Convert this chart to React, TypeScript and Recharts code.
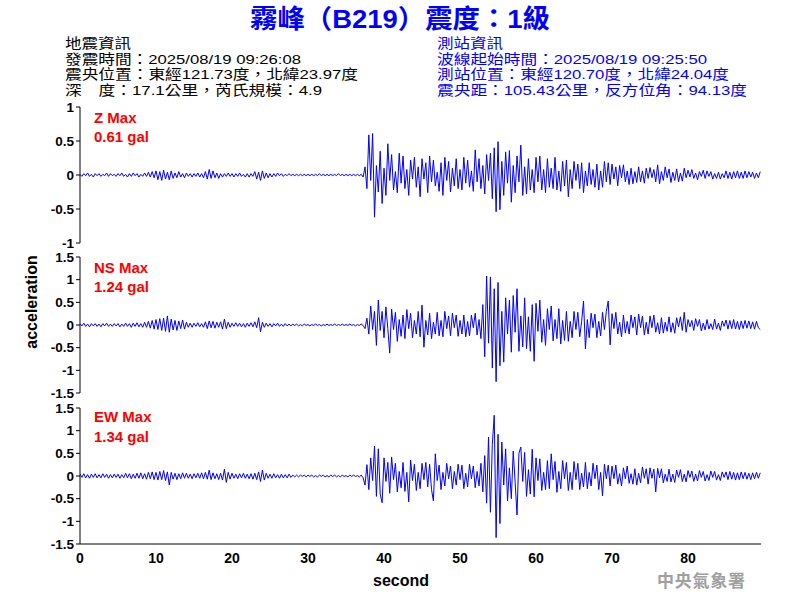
import React from 'react';
import { LineChart, Line, XAxis, YAxis } from 'recharts';

// 取樣間隔 (秒)，數值單位 0.01 gal
const SAMPLE_INTERVAL = 0.25;

const Z_CGAL = [
  1, -2, 2, -1, 3, -2, 1, -3, 2, -1, 2, -2, 1, -1, 3, -2, 2, -1, 1, -2,
  2, -1, 3, -2, 1, -3, 2, -2, 3, -1, 2, -3, 1, -2, 3, -2, 4, -3, 5, -4,
  6, -7, 5, -8, 7, -6, 4, -7, 6, -5, 3, -4, 5, -3, 2, -4, 3, -2, 2, -3,
  2, -2, 3, -3, 2, -4, 5, -6, 8, -5, 6, -4, 3, -5, 2, -3, 2, -2, 3, -2,
  2, -3, 2, -2, 3, -2, 1, -3, 2, -3, 2, -2, 5, -6, 4, -8, 6, -5, 3, -4,
  2, -3, 2, -2, 3, -1, 2, -2, 1, -1, 2, -1, 1, -1, 1, -1, 1, -1, 1, -1,
  1, -1, 1, -1, 1, -1, 2, -1, 1, -1, 1, -1, 1, -1, 1, -1, 2, -1, 1, -1,
  1, -1, 1, -1, 1, -1, 1, -1, 1, -3, 12, -20, 59, -8, 61, -62, 14, -25, 35, -42,
  10, -30, 46, -8, 30, -22, 5, -26, 32, -12, 28, -20, 8, -30, 22, -6, 26, -18, 12, -32,
  24, -6, 18, -26, 28, -10, 22, -16, 4, -24, 18, -30, 26, -8, 20, -25, 10, -16, 24, -20,
  8, -22, 26, -12, 22, -18, 6, -24, 37, -10, 24, -20, 14, -28, 30, -8, 32, -35, 40, -54,
  49, -51, 20, -30, 34, -12, 36, -40, 14, -26, 28, -10, 44, -30, 12, -28, 24, -22, 8, -26,
  26, -10, 28, -22, 8, -26, 24, -18, 10, -20, 26, -22, 6, -24, 20, -16, 22, -32, 8, -20,
  20, -8, 16, -20, 18, -26, 6, -16, 18, -14, 8, -18, 16, -22, 6, -18, 20, -10, 18, -14,
  16, -6, 12, -16, 14, -4, 15, -10, 6, -14, 10, -13, 5, -11, 12, -10, 6, -12, 10, -5,
  11, -4, 8, -10, 15, -13, 5, -8, 12, -4, 9, -11, 4, -8, 9, -10, 3, -9, 10, -4,
  7, -3, 8, -5, 3, -7, 5, -2, 7, -5, 6, -2, 5, -6, 2, -5, 4, -6, 2, -4,
  6, -5, 4, -6, 5, -4, 6, -5, 4, -5, 6, -4, 5, -3, 4, -5, 3, -4, 5,
];

const NS_CGAL = [
  3, -2, 4, -3, 2, -4, 3, -2, 3, -3, 2, -4, 3, -2, 4, -3, 2, -3, 3, -2,
  3, -4, 2, -3, 4, -3, 3, -5, 4, -3, 5, -4, 3, -5, 6, -5, 8, -7, 10, -9,
  12, -10, 14, -12, 15, -14, 20, -16, 13, -11, 10, -12, 9, -8, 11, -9, 6, -5, 4, -5,
  4, -3, 5, -4, 3, -5, 7, -8, 9, -6, 8, -7, 6, -5, 7, -9, 13, -8, 6, -5,
  4, -3, 5, -3, 4, -4, 3, -5, 4, -3, 5, -4, 7, -6, 16, -15, 6, -5, 4, -3,
  3, -4, 3, -2, 4, -3, 2, -3, 3, -2, 2, -2, 2, -1, 2, -2, 1, -2, 2, -1,
  1, -2, 1, -1, 2, -1, 1, -2, 1, -1, 2, -1, 1, -1, 2, -1, 1, -1, 2, -1,
  1, -1, 2, -1, 1, -2, 1, -1, 2, -1, -8, 15, -20, 42, -10, 30, -45, 55, -12, 30,
  -28, 40, -8, -62, 35, -10, 28, -36, 12, -25, 22, -30, 34, -8, 26, -28, 10, -20, 30, -26,
  44, -49, 10, -22, 26, -30, 6, -20, 28, -24, 10, -26, 30, -8, 20, -24, 26, -6, 22, -25,
  10, -20, 22, -26, 8, -24, 22, -6, 26, -22, 12, -30, 45, -70, 108, -40, 106, -95, 80, -125,
  94, -90, 30, -82, 60, -20, 55, -60, 65, -16, 80, -58, 20, -48, 60, -52, 18, -58, 45, -80,
  48, -14, 55, -38, 12, -45, 36, -10, 42, -35, 12, -30, 36, -42, 10, -34, 30, -36, 8, -28,
  30, -10, 28, -26, 8, 53, -53, 12, -28, 26, -6, 24, -28, 8, -24, 28, -10, 30, 53, -44,
  25, -8, 28, -20, 6, -26, 22, -18, 8, -20, 22, -6, 18, -22, 24, -6, 20, -22, 6, -20,
  20, -6, 22, -16, 5, -20, 16, -18, 6, -14, 18, -16, 5, -18, 16, -4, 18, -12, 28, -16,
  12, -4, 10, -12, 14, -3, 12, -13, 4, -11, 12, -9, 3, -10, 13, -9, 4, -12, 9, -3,
  11, -9, 10, -8, 12, -9, 8, -10, 9, -8, 10, -7, 9, -8, 7, -9, 8, -6, -10,
];

const EW_CGAL = [
  4, -3, 5, -4, 3, -5, 4, -3, 5, -4, 3, -4, 5, -3, 4, -5, 3, -4, 4, -3,
  4, -5, 3, -4, 6, -4, 5, -6, 4, -5, 6, -5, 7, -6, 5, -7, 8, -6, 9, -8,
  8, -9, 10, -8, 12, -10, 9, -20, 8, -7, 6, -8, 5, -6, 7, -5, 6, -5, 4, -6,
  5, -4, 6, -5, 7, -6, 8, -7, 13, -8, 7, -6, 5, -8, 6, -9, 15, -14, 8, -7,
  6, -5, 4, -6, 5, -4, 6, -5, 4, -6, 5, -7, 6, -8, 9, -12, 13, -9, 6, -5,
  4, -5, 5, -4, 3, -5, 4, -4, 3, -4, 4, -3, 2, -2, 2, -2, 2, -1, 2, -2,
  2, -1, 2, -2, 1, -2, 2, -1, 2, -2, 1, -2, 2, -1, 2, -2, 1, -2, 2, -1,
  1, -2, 2, -1, 2, -1, 1, -2, 2, -4, -20, 25, -30, 40, -10, 66, -45, 60, -40, -59,
  40, -12, 30, -38, 42, -8, 28, -35, 10, -26, 30, -34, 8, -57, 35, -10, 26, -32, 8, -28,
  28, -8, 30, -24, 26, -30, -55, 49, -10, 24, -30, 8, -22, 28, -6, 22, -28, 10, -20, 26,
  -8, 24, -28, 6, -24, 26, -6, 22, -26, 10, -22, 28, -35, 45, -60, 86, -80, 70, 134, -136,
  92, -105, 75, -20, 60, -55, 18, -50, 55, -14, -86, 50, 64, -12, 52, -45, 14, -40, 59, -46,
  40, -10, 38, -32, 8, -30, 34, -28, 49, -8, 32, -36, 10, -28, 34, -6, 30, -32, 8, -30,
  32, -8, 28, -30, 6, -24, 30, -28, 8, -22, 28, -6, 24, -30, 8, -44, 26, -6, 24, -22,
  22, -6, 24, -18, 5, -22, 18, -6, 22, -16, 5, -18, 16, -20, 6, -15, 20, -5, 16, -18,
  18, -5, 15, -35, 17, -4, 16, -15, 4, -12, 15, -13, 4, -14, 13, -3, 14, -12, 4, -13,
  12, -3, 11, -12, 4, -11, 12, -3, 10, -11, 3, -10, 11, -3, 10, -9, 3, -10, 9, -3,
  9, -8, 10, -7, 8, -9, 7, -8, 9, -6, 8, -7, 6, -8, 7, -6, 8, -5, 7,
];

const X_TICKS = [0, 10, 20, 30, 40, 50, 60, 70, 80];
const Z_TICKS = [-1, -0.5, 0, 0.5, 1];
const H_TICKS = [-1.5, -1, -0.5, 0, 0.5, 1, 1.5];

const LEFT_INFO = [
  '地震資訊',
  '發震時間：2025/08/19 09:26:08',
  '震央位置：東經121.73度，北緯23.97度',
  '深　度：17.1公里，芮氏規模：4.9',
];
const RIGHT_INFO = [
  '測站資訊',
  '波線起始時間：2025/08/19 09:25:50',
  '測站位置：東經120.70度，北緯24.04度',
  '震央距：105.43公里，反方位角：94.13度',
];
const LEFT_W = [66, 236, 293, 257];
const RIGHT_W = [66, 270, 292, 310];
const INFO_Y = [48, 64, 79, 95];

const toRows = (c: number[]) => c.map((v, i) => ({ t: i * SAMPLE_INTERVAL, v: v / 100 }));

const FONT = '"Liberation Sans", Arial, "Noto Sans CJK TC", sans-serif';
const tickStyle = { fill: '#000', fontSize: 13.5, fontWeight: 700, fontFamily: FONT };

type PanelProps = {
  values: number[];
  domain: [number, number];
  ticks: number[];
  top: number;
  height: number;
  showX?: boolean;
};

const Panel = ({ values, domain, ticks, top, height, showX }: PanelProps) => (
  <div style={{ position: 'absolute', left: 0, top }}>
    <LineChart
      width={800}
      height={height}
      data={toRows(values)}
      margin={{ top: showX ? 8 : 7, right: 39, bottom: showX ? 26 : 7, left: 0 }}
    >
      <XAxis
        dataKey="t"
        type="number"
        domain={[0, 89.6]}
        ticks={X_TICKS}
        interval={0}
        hide={!showX}
        height={30}
        tickLine={false}
        tickSize={7}
        tickMargin={2}
        tick={{ ...tickStyle, fontSize: 14 }}
        axisLine={{ stroke: '#000' }}
        allowDataOverflow
      />
      <YAxis
        type="number"
        domain={domain}
        ticks={ticks}
        interval={0}
        width={80}
        tickSize={4}
        tick={tickStyle}
        tickLine={{ stroke: '#000' }}
        axisLine={{ stroke: '#000' }}
        allowDataOverflow
      />
      <Line
        type="linear"
        dataKey="v"
        stroke="#0000ff"
        strokeWidth={1}
        dot={false}
        isAnimationActive={false}
      />
    </LineChart>
  </div>
);

const App = () => {
  return (
    <div style={{ position: 'absolute', left: 0, top: 0, width: 800, height: 600, background: '#fff' }}>
      <Panel values={Z_CGAL} domain={[-1, 1]} ticks={Z_TICKS} top={100} height={150} />
      <Panel values={NS_CGAL} domain={[-1.5, 1.5]} ticks={H_TICKS} top={250} height={150} />
      <Panel values={EW_CGAL} domain={[-1.5, 1.5]} ticks={H_TICKS} top={400} height={200} showX />

      <svg
        width={800}
        height={600}
        style={{ position: 'absolute', left: 0, top: 0, pointerEvents: 'none' }}
        fontFamily={FONT}
      >
        <text x={400} y={28} textAnchor="middle" fontSize={26} fontWeight={700} fill="#0000ff" textLength={300} lengthAdjust="spacingAndGlyphs">
          霧峰（B219）震度：1級
        </text>

        {LEFT_INFO.map((s, i) => (
          <text key={s} x={65} y={INFO_Y[i]} fontSize={13.5} fill="#000" textLength={LEFT_W[i]} lengthAdjust="spacingAndGlyphs">
            {s}
          </text>
        ))}
        {RIGHT_INFO.map((s, i) => (
          <text key={s} x={437} y={INFO_Y[i]} fontSize={13.5} fill="#0000ff" textLength={RIGHT_W[i]} lengthAdjust="spacingAndGlyphs">
            {s}
          </text>
        ))}

        {/* 各分量最大值 */}
        <g fontSize={15} fontWeight={700} fill="#ff0000">
          <text x={94} y={123}>Z Max</text>
          <text x={94} y={142}>0.61 gal</text>
          <text x={94} y={273}>NS Max</text>
          <text x={94} y={292}>1.24 gal</text>
          <text x={94} y={422}>EW Max</text>
          <text x={94} y={442}>1.34 gal</text>
        </g>

        <text x={37} y={302} textAnchor="middle" fontSize={16} fontWeight={700} fill="#000" transform="rotate(-90 37 302)">
          acceleration
        </text>
        <text x={401} y={586} textAnchor="middle" fontSize={16} fontWeight={700} fill="#000">
          second
        </text>
        <text x={657} y={587} fontSize={17} fontWeight={700} fill="#a0a0a0" textLength={88} lengthAdjust="spacing">
          中央氣象署
        </text>
      </svg>
    </div>
  );
};

export default App;
